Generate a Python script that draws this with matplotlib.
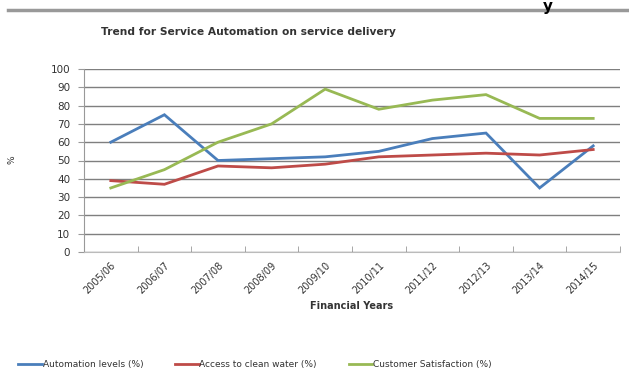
import matplotlib
matplotlib.use("Agg")
import matplotlib.pyplot as plt
from matplotlib.lines import Line2D
import numpy as np

years = ["2005/06", "2006/07", "2007/08", "2008/09", "2009/10",
         "2010/11", "2011/12", "2012/13", "2013/14", "2014/15"]
automation = [60, 75, 50, 51, 52, 55, 62, 65, 35, 58]
clean_water = [39, 37, 47, 46, 48, 52, 53, 54, 53, 56]
satisfaction = [35, 45, 60, 70, 89, 78, 83, 86, 73, 73]

series_names = ["Automation levels (%)", "Access to clean water (%)",
                "Customer Satisfaction (%)"]
colors = ["#4a7ebb", "#be4b48", "#98b954"]

plt.rcParams["font.family"] = ["DejaVu Sans"]

fig = plt.figure(figsize=(6.29, 3.80), dpi=100)
ax = fig.add_axes([84 / 629, 1 - 252 / 380, (620 - 84) / 629, (252 - 69) / 380])

x = np.arange(len(years))
for vals, c in zip([automation, clean_water, satisfaction], colors):
    ax.plot(x, vals, color=c, lw=2.0, solid_joinstyle="miter")

ax.set_xlim(-0.5, len(years) - 0.5)
ax.set_ylim(0, 100)
ax.set_yticks(range(0, 101, 10))
ax.yaxis.grid(True, color="#7f7f7f", lw=1.0)
ax.set_axisbelow(True)

ax.set_xticks(x)
ax.set_xticklabels(years, rotation=45, ha="right", rotation_mode="anchor",
                   fontsize=7, color="#333333")
ax.set_xticks(np.arange(-0.5, len(years)), minor=True)
ax.tick_params(axis="x", which="major", length=0, pad=6)
ax.tick_params(axis="x", which="minor", length=4, color="#999999", direction="in")
ax.tick_params(axis="y", length=4, color="#999999", labelsize=7.5,
               labelcolor="#333333", pad=6)

for s in ["top", "right"]:
    ax.spines[s].set_visible(False)
ax.spines["left"].set_color("#999999")
ax.spines["bottom"].set_color("#bbbbbb")

ax.set_xlabel("Financial Years", fontsize=7, fontweight="bold", color="#333333",
              labelpad=4)
fig.text(12 / 629, 1 - 160 / 380, "%", rotation=90, fontsize=6.5,
         ha="center", va="center", color="#333333")

fig.text(248 / 629, 1 - 32 / 380, "Trend for Service Automation on service delivery",
         fontsize=7.7, fontweight="bold", ha="center", va="center", color="#333333")

# page rule and heading glyph above the chart
fig.add_artist(Line2D([8 / 629, 1.0], [1 - 10 / 380, 1 - 10 / 380],
                      color="#999999", lw=2.5))
fig.text(548 / 629, 1 - 7 / 380, "y", fontsize=11, fontweight="bold",
         ha="center", va="center", color="black")

handles = [Line2D([0], [0], color=c, lw=2) for c in colors]
fig.legend(handles, series_names, loc="center", bbox_to_anchor=(255 / 629, 1 - 365 / 380),
           ncol=3, frameon=False, fontsize=6.5, handlelength=2.6,
           handletextpad=0.1, columnspacing=3.5, labelcolor="#333333")

fig.savefig("out.png", dpi=100)
